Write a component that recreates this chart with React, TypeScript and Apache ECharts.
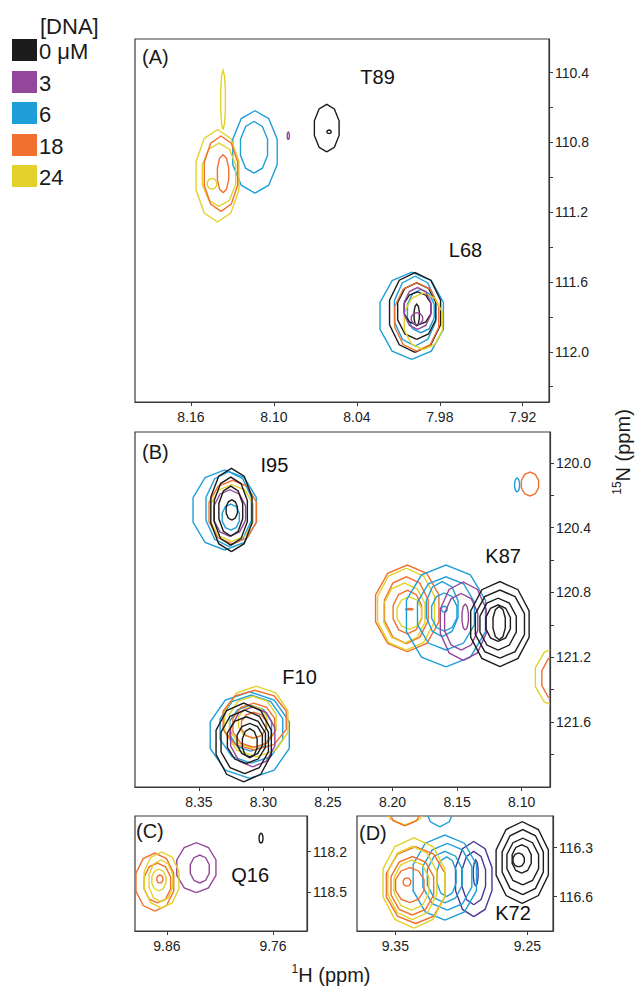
import React, { useEffect, useRef } from "react";
import * as echarts from "echarts";

// ---------- legend / concentrations ----------
const CONC_LABELS = ["0 \u03bcM", "3", "6", "18", "24"];
const CONC_COLORS = ["#1c1c1c", "#93479b", "#1f9fd8", "#f2702f", "#e2d22b"];
const D_COLORS = ["#1c1c1c", "#4b3892", "#1f9fd8", "#f2702f", "#e2d22b"];

// ---------- contour levels: [1H ppm, 15N ppm, half-width 1H, half-height 15N, conc index] ----------
const CONTOURS_A = [
  [8.0618, 110.718, 0.0094, 0.136, 0],
  [8.0601, 110.739, 0.0016, 0.01, 0],
  [8.0896, 110.762, 0.0008, 0.022, 1],
  [8.1137, 110.854, 0.0169, 0.236, 2],
  [8.1144, 110.828, 0.0103, 0.148, 2],
  [8.1408, 110.991, 0.0163, 0.265, 4],
  [8.1368, 110.556, 0.0018, 0.17, 4],
  [8.1397, 110.985, 0.0127, 0.181, 4],
  [8.1448, 111.037, 0.0036, 0.031, 4],
  [8.1383, 110.979, 0.0127, 0.216, 3],
  [8.1368, 110.979, 0.0043, 0.109, 3],
  [8.0003, 111.794, 0.0241, 0.25, 2],
  [7.9979, 111.767, 0.0157, 0.2, 2],
  [7.9937, 111.767, 0.0102, 0.124, 2],
  [7.9979, 111.775, 0.0194, 0.229, 0],
  [7.9967, 111.767, 0.0145, 0.162, 0],
  [7.9961, 111.752, 0.0102, 0.095, 0],
  [7.9967, 111.79, 0.002, 0.063, 0],
  [7.9967, 111.8, 0.0167, 0.196, 3],
  [7.9919, 111.825, 0.0145, 0.162, 4],
  [7.9961, 111.752, 0.01, 0.12, 1],
  [7.9965, 111.81, 0.0043, 0.034, 1],
];

const CONTOURS_B = [
  // I95
  [8.33, 120.291, 0.0258, 0.247, 2],
  [8.3269, 120.285, 0.0185, 0.231, 2],
  [8.3253, 120.335, 0.007, 0.08, 2],
  [8.3238, 120.304, 0.0193, 0.196, 3],
  [8.3245, 120.31, 0.0174, 0.175, 4],
  [8.3261, 120.31, 0.0129, 0.144, 1],
  [8.3248, 120.291, 0.0168, 0.257, 0],
  [8.3253, 120.298, 0.0135, 0.21, 0],
  [8.3253, 120.298, 0.0097, 0.154, 0],
  [8.3245, 120.291, 0.0046, 0.062, 0],
  // F10
  [8.3106, 121.68, 0.0322, 0.267, 2],
  [8.3093, 121.643, 0.0255, 0.21, 2],
  [8.3099, 121.637, 0.017, 0.142, 2],
  [8.3055, 121.596, 0.0257, 0.218, 4],
  [8.3083, 121.6, 0.019, 0.16, 4],
  [8.3083, 121.6, 0.0116, 0.1, 4],
  [8.3068, 121.588, 0.0257, 0.185, 3],
  [8.3075, 121.619, 0.017, 0.136, 3],
  [8.3075, 121.619, 0.01, 0.08, 3],
  [8.3083, 121.691, 0.018, 0.185, 1],
  [8.3153, 121.725, 0.0225, 0.243, 0],
  [8.3145, 121.722, 0.0193, 0.196, 0],
  [8.3132, 121.711, 0.0155, 0.144, 0],
  [8.3106, 121.711, 0.0103, 0.103, 0],
  [8.3106, 121.73, 0.006, 0.09, 0],
  // K87
  [8.1886, 120.898, 0.0258, 0.267, 3],
  [8.1893, 120.909, 0.0178, 0.206, 3],
  [8.1885, 120.921, 0.0116, 0.134, 3],
  [8.187, 120.903, 0.003, 0.004, 3],
  [8.1895, 120.903, 0.0232, 0.253, 4],
  [8.1908, 120.927, 0.0168, 0.185, 4],
  [8.187, 120.927, 0.01, 0.1, 4],
  [8.1586, 120.945, 0.0322, 0.314, 2],
  [8.1586, 120.929, 0.0232, 0.226, 2],
  [8.1615, 120.903, 0.0129, 0.17, 2],
  [8.1599, 120.921, 0.0103, 0.118, 2],
  [8.1599, 120.903, 0.0023, 0.018, 2],
  [8.1452, 120.977, 0.0187, 0.242, 1],
  [8.1468, 120.981, 0.0135, 0.175, 1],
  [8.1437, 120.952, 0.0026, 0.08, 1],
  [8.1168, 120.995, 0.0238, 0.262, 0],
  [8.1168, 120.995, 0.02, 0.21, 0],
  [8.1182, 120.995, 0.0148, 0.16, 0],
  [8.1182, 120.989, 0.01, 0.113, 0],
  [8.1174, 120.989, 0.005, 0.103, 0],
  // small peaks near the right edge
  [8.0935, 120.131, 0.007, 0.074, 3],
  [8.1035, 120.137, 0.002, 0.043, 2],
  [8.071, 121.322, 0.0193, 0.19, 4],
  [8.071, 121.328, 0.014, 0.148, 3],
  [8.0695, 121.341, 0.0077, 0.12, 2],
];

const CONTOURS_C = [
  [9.7713, 118.101, 0.0019, 0.037, 0],
  [9.8322, 118.318, 0.0194, 0.184, 1],
  [9.829, 118.328, 0.0094, 0.103, 1],
  [9.8713, 118.424, 0.0187, 0.214, 3],
  [9.8689, 118.431, 0.0131, 0.147, 3],
  [9.8666, 118.402, 0.003, 0.03, 3],
  [9.865, 118.409, 0.0172, 0.207, 4],
  [9.8656, 118.416, 0.0117, 0.155, 4],
  [9.8675, 118.409, 0.007, 0.08, 4],
];

const CONTOURS_D = [
  [9.2539, 116.391, 0.0208, 0.25, 0],
  [9.2535, 116.388, 0.0164, 0.199, 0],
  [9.2535, 116.385, 0.0126, 0.143, 0],
  [9.2543, 116.369, 0.0076, 0.087, 0],
  [9.2566, 116.375, 0.0045, 0.043, 0],
  [9.2906, 116.492, 0.0145, 0.23, 1],
  [9.2906, 116.486, 0.0094, 0.163, 1],
  [9.2891, 116.455, 0.0019, 0.08, 1],
  [9.3125, 116.483, 0.0252, 0.26, 2],
  [9.3106, 116.478, 0.0195, 0.204, 2],
  [9.3125, 116.48, 0.0139, 0.158, 2],
  [9.3112, 116.478, 0.0076, 0.122, 2],
  [9.3346, 116.529, 0.0233, 0.235, 3],
  [9.3371, 116.533, 0.017, 0.179, 3],
  [9.339, 116.529, 0.0113, 0.107, 3],
  [9.3412, 116.51, 0.003, 0.025, 3],
  [9.3359, 116.516, 0.0246, 0.276, 4],
  [9.3371, 116.516, 0.0195, 0.224, 4],
  [9.3377, 116.529, 0.0139, 0.153, 4],
  [9.3427, 115.977, 0.019, 0.184, 4],
  [9.3427, 115.996, 0.0151, 0.171, 3],
  [9.3163, 116.008, 0.0121, 0.165, 2],
];

// ---------- peak assignments: [1H, 15N] with names ----------
const PEAK_NAMES_A = ["T89", "L68"];
const PEAK_POS_A = [[8.025, 110.422], [7.9614, 111.417]];
const PEAK_NAMES_B = ["I95", "K87", "F10"];
const PEAK_POS_B = [[8.2915, 120.014], [8.1143, 120.578], [8.272, 121.319]];
const PEAK_NAMES_C = ["Q16"];
const PEAK_POS_C = [[9.7815, 118.372]];
const PEAK_NAMES_D = ["K72"];
const PEAK_POS_D = [[9.2609, 116.697]];

// ---------- axis ranges and ticks ----------
const X_RANGES = [[7.901, 8.2005], [8.078, 8.3995], [9.728, 9.89], [9.2306, 9.379]];
const Y_RANGES = [[110.207, 112.288], [119.81, 122.0], [117.937, 118.785], [116.106, 116.81]];
const X_TICKS = [
  [8.16, 8.1, 8.04, 7.98, 7.92],
  [8.35, 8.3, 8.25, 8.2, 8.15, 8.1],
  [9.86, 9.76],
  [9.35, 9.25],
];
const Y_LABELS = [
  [110.4, 110.8, 111.2, 111.6, 112.0],
  [120.0, 120.4, 120.8, 121.2, 121.6],
  [118.2, 118.5],
  [116.3, 116.6],
];
const Y_TICKS = [
  [110.4, 110.6, 110.8, 111.0, 111.2, 111.4, 111.6, 111.8, 112.0, 112.2],
  [120.0, 120.2, 120.4, 120.6, 120.8, 121.0, 121.2, 121.4, 121.6, 121.8],
  [118.2, 118.5],
  [116.3, 116.6],
];
const X_DECIMALS = [2, 2, 2, 2];
const Y_DECIMALS = [1, 1, 1, 1];
const PANEL_LETTERS = ["(A)", "(B)", "(C)", "(D)"];

const FONT = "'Liberation Sans', Arial, Helvetica, sans-serif";

function makeRenderer(colors: string[]) {
  return (_params: any, api: any) => {
    const x = api.value(0);
    const y = api.value(1);
    const rx = api.value(2);
    const ry = api.value(3);
    const c = api.value(4);
    const ctr = api.coord([x, y]);
    const s = api.size([rx * 2, ry * 2]);
    const w = Math.abs(s[0]) / 2;
    const h = Math.abs(s[1]) / 2;
    const n = 10;
    const pts: number[][] = [];
    for (let i = 0; i <= n; i++) {
      const a = ((i % n) / n) * Math.PI * 2 + Math.PI / 2;
      pts.push([ctr[0] + w * Math.cos(a), ctr[1] + h * Math.sin(a)]);
    }
    return {
      type: "polyline",
      shape: { points: pts },
      style: { stroke: colors[c], lineWidth: 1.4, fill: null },
    };
  };
}

function makeTextRenderer(names: string[]) {
  return (params: any, api: any) => {
    const p = api.coord([api.value(0), api.value(1)]);
    return {
      type: "text",
      x: p[0],
      y: p[1],
      style: {
        text: names[params.dataIndex],
        fontSize: 20,
        fontFamily: FONT,
        fill: "#111111",
        textAlign: "center",
        textVerticalAlign: "middle",
      },
    };
  };
}

export default function App() {
  const ref = useRef<HTMLDivElement>(null);

  useEffect(() => {
    if (!ref.current) return;
    const chart = echarts.init(ref.current, null, { renderer: "svg" });

    const grids = [
      { left: 135, top: 39, width: 414, height: 363 },
      { left: 135, top: 432, width: 415, height: 355 },
      { left: 135, top: 816, width: 172, height: 115 },
      { left: 357, top: 816, width: 196, height: 115 },
    ].map((g) => ({
      ...g,
      show: true,
      borderColor: "#3a3a3a",
      borderWidth: 1.2,
      backgroundColor: "transparent",
      containLabel: false,
    }));

    const xAxes = X_RANGES.map((r, i) => ({
      type: "value",
      gridIndex: i,
      min: r[0],
      max: r[1],
      inverse: true,
      position: "bottom",
      splitLine: { show: false },
      axisLine: { show: true, lineStyle: { color: "#3a3a3a", width: 1.2 } },
      axisTick: {
        show: true,
        inside: false,
        length: 4,
        lineStyle: { color: "#3a3a3a" },
        customValues: X_TICKS[i],
      },
      axisLabel: {
        show: true,
        margin: 8,
        fontSize: 14,
        fontFamily: FONT,
        color: "#222",
        customValues: X_TICKS[i],
        formatter: (v: number) => v.toFixed(X_DECIMALS[i]),
      },
    }));

    const yAxes = Y_RANGES.map((r, i) => ({
      type: "value",
      gridIndex: i,
      min: r[0],
      max: r[1],
      inverse: true,
      position: "right",
      splitLine: { show: false },
      axisLine: { show: true, lineStyle: { color: "#3a3a3a", width: 1.2 } },
      axisTick: {
        show: true,
        inside: false,
        length: 4,
        lineStyle: { color: "#3a3a3a" },
        customValues: Y_TICKS[i],
      },
      axisLabel: {
        show: true,
        margin: 6,
        fontSize: 14,
        fontFamily: FONT,
        color: "#222",
        customValues: Y_LABELS[i],
        formatter: (v: number) => v.toFixed(Y_DECIMALS[i]),
      },
    }));

    const contourSets = [CONTOURS_A, CONTOURS_B, CONTOURS_C, CONTOURS_D];
    const peakNames = [PEAK_NAMES_A, PEAK_NAMES_B, PEAK_NAMES_C, PEAK_NAMES_D];
    const peakPos = [PEAK_POS_A, PEAK_POS_B, PEAK_POS_C, PEAK_POS_D];

    const series: any[] = [];
    contourSets.forEach((set, i) => {
      series.push({
        type: "custom",
        xAxisIndex: i,
        yAxisIndex: i,
        clip: true,
        silent: true,
        renderItem: makeRenderer(i === 3 ? D_COLORS : CONC_COLORS),
        data: set,
      });
    });
    peakPos.forEach((set, i) => {
      series.push({
        type: "custom",
        xAxisIndex: i,
        yAxisIndex: i,
        silent: true,
        renderItem: makeTextRenderer(peakNames[i]),
        data: set,
      });
    });

    const letterPos = [
      [142, 57],
      [142, 452],
      [136, 831],
      [359, 833],
    ];
    const graphics: any[] = PANEL_LETTERS.map((t, i) => ({
      type: "text",
      x: letterPos[i][0],
      y: letterPos[i][1],
      style: {
        text: t,
        fontSize: 20,
        fontFamily: FONT,
        fill: "#1a1a1a",
        textAlign: "left",
        textVerticalAlign: "middle",
      },
    }));

    // legend
    graphics.push({
      type: "text",
      x: 40,
      y: 26,
      style: {
        text: "[DNA]",
        fontSize: 22,
        fontFamily: FONT,
        fill: "#1a1a1a",
        textAlign: "left",
        textVerticalAlign: "middle",
      },
    });
    const rowTops = [39, 71, 102, 134, 165];
    CONC_LABELS.forEach((lab, i) => {
      graphics.push({
        type: "rect",
        shape: { x: 12, y: rowTops[i], width: 25, height: 22 },
        style: { fill: CONC_COLORS[i] },
      });
      graphics.push({
        type: "text",
        x: 39,
        y: rowTops[i] + 12,
        style: {
          text: lab,
          fontSize: 22,
          fontFamily: FONT,
          fill: "#1a1a1a",
          textAlign: "left",
          textVerticalAlign: "middle",
        },
      });
    });

    // axis titles
    graphics.push({
      type: "text",
      x: 623,
      y: 452,
      rotation: Math.PI / 2,
      style: {
        text: "{s|15}{n|N (ppm)}",
        textAlign: "center",
        textVerticalAlign: "middle",
        rich: {
          s: { fontSize: 12, fontFamily: FONT, fill: "#1a1a1a", verticalAlign: "top", lineHeight: 24 },
          n: { fontSize: 20, fontFamily: FONT, fill: "#1a1a1a", lineHeight: 24 },
        },
      },
    });
    graphics.push({
      type: "text",
      x: 331,
      y: 975,
      style: {
        text: "{s|1}{n|H (ppm)}",
        textAlign: "center",
        textVerticalAlign: "middle",
        rich: {
          s: { fontSize: 12, fontFamily: FONT, fill: "#1a1a1a", verticalAlign: "top", lineHeight: 24 },
          n: { fontSize: 20, fontFamily: FONT, fill: "#1a1a1a", lineHeight: 24 },
        },
      },
    });

    chart.setOption({
      animation: false,
      backgroundColor: "#ffffff",
      grid: grids,
      xAxis: xAxes,
      yAxis: yAxes,
      series,
      graphic: graphics,
    });

    return () => chart.dispose();
  }, []);

  return (
    <div
      ref={ref}
      style={{ position: "fixed", left: 0, top: 0, width: 638, height: 989 }}
    />
  );
}
